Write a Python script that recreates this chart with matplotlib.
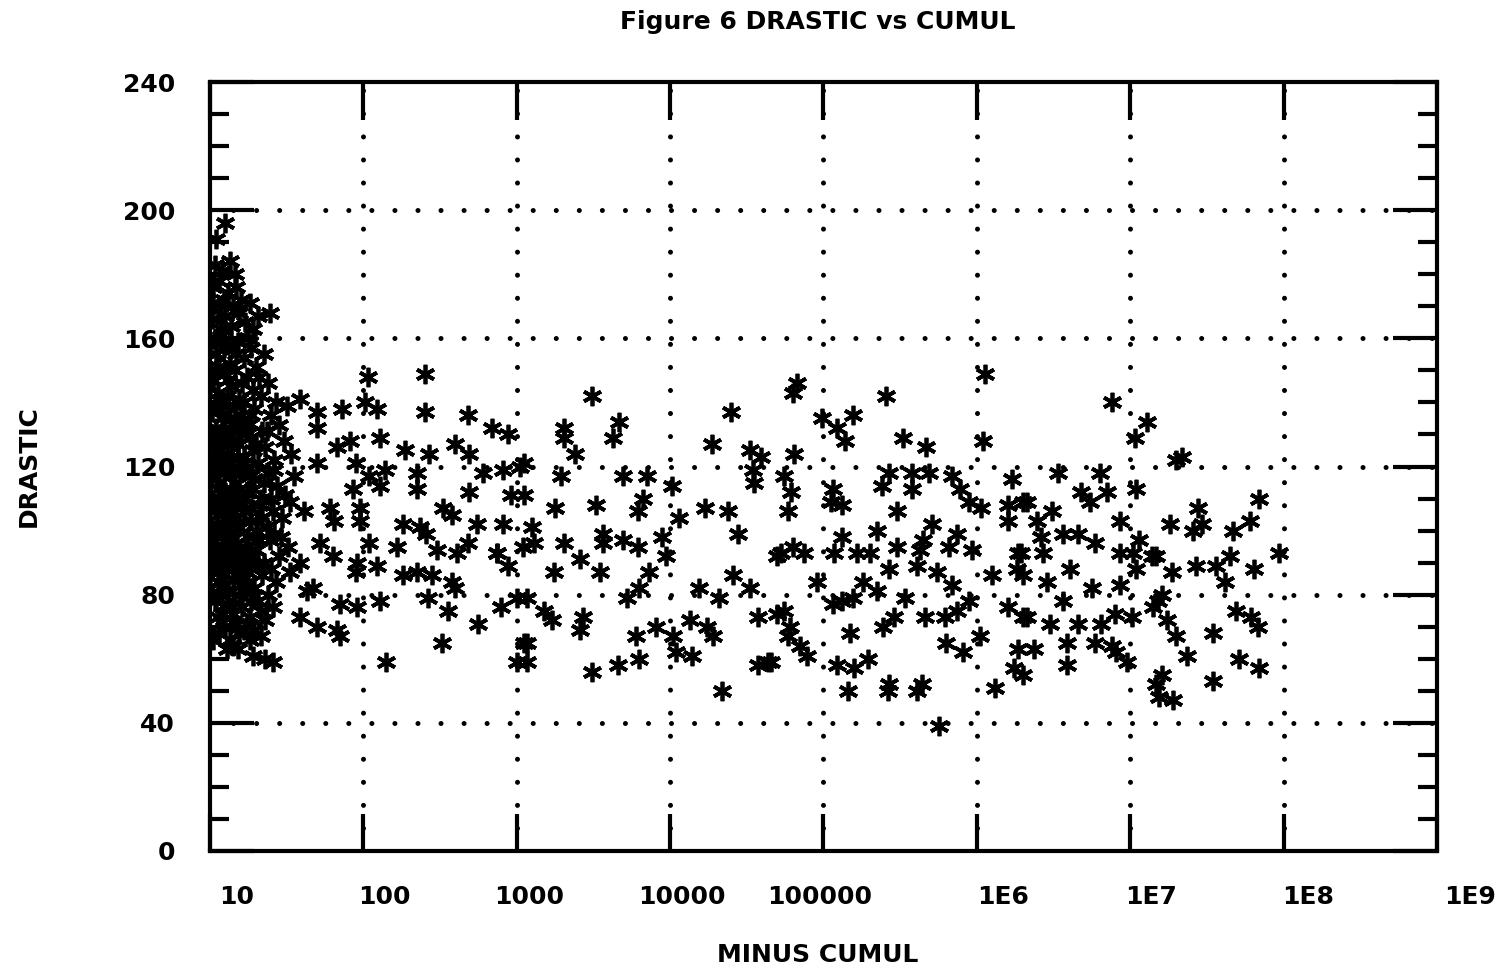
import numpy as np
import matplotlib
matplotlib.use("Agg")
import matplotlib.pyplot as plt

# log10 of MINUS CUMUL, with DRASTIC values
log_cumul = [
    # dense group near 10
    1.10, 1.04, 1.03, 1.13, 1.08, 1.16, 1.02, 1.06, 1.12, 1.20, 1.26, 1.09, 1.17,
    1.01, 1.05, 1.10, 1.14, 1.19, 1.23, 1.28, 1.39, 1.08, 1.31,
    1.00, 1.04, 1.09, 1.13, 1.18, 1.22, 1.27, 1.30, 1.35, 1.06, 1.16,
    1.02, 1.05, 1.10, 1.14, 1.19, 1.24, 1.28, 1.33, 1.38, 1.43, 1.08, 1.21,
    1.01, 1.04, 1.08, 1.12, 1.15, 1.20, 1.25, 1.29, 1.34, 1.40, 1.45, 1.50, 1.07, 1.17,
    1.00, 1.03, 1.07, 1.11, 1.14, 1.18, 1.22, 1.26, 1.31, 1.36, 1.42, 1.48, 1.53, 1.09, 1.20, 1.28,
    1.01, 1.05, 1.09, 1.13, 1.16, 1.21, 1.24, 1.29, 1.33, 1.38, 1.44, 1.49, 1.55, 1.07, 1.19, 1.26,
    1.00, 1.04, 1.08, 1.11, 1.15, 1.19, 1.23, 1.27, 1.32, 1.37, 1.41, 1.47, 1.52, 1.06, 1.13, 1.30,
    1.02, 1.06, 1.10, 1.14, 1.17, 1.21, 1.25, 1.30, 1.35, 1.39, 1.45, 1.51, 1.09, 1.28,
    1.01, 1.05, 1.09, 1.12, 1.16, 1.20, 1.24, 1.29, 1.34, 1.38, 1.43, 1.07,
    1.03, 1.08, 1.12, 1.17, 1.21, 1.26, 1.31, 1.36, 1.41, 1.10,
    1.06, 1.13, 1.18, 1.22, 1.28, 1.33, 1.36, 1.15,
    1.02, 1.07, 1.11, 1.15, 1.03, 1.12, 1.17, 1.25,
    1.00, 1.06, 1.11, 1.16, 1.22, 1.27, 1.32,
    1.01, 1.05, 1.10, 1.14, 1.18, 1.23, 1.30, 1.37,
    1.02, 1.06, 1.10, 1.15, 1.19, 1.24, 1.28, 1.35, 1.42,
    1.01, 1.05, 1.09, 1.13, 1.17, 1.22, 1.26, 1.34, 1.40,
    1.00, 1.04, 1.08, 1.12, 1.18, 1.23, 1.27, 1.32, 1.42,
    1.02, 1.06, 1.11, 1.15, 1.19, 1.25, 1.31, 1.40,
    1.00, 1.04, 1.10, 1.14, 1.19, 1.23, 1.27, 1.33,
    1.05, 1.09, 1.15, 1.19, 1.24, 1.29, 1.02, 1.11, 1.26,
    1.04, 1.13, 1.20, 1.08, 1.16, 1.21, 1.07, 1.14,
    # 30 .. 1000
    2.03, 2.40, 2.40, 2.68, 1.59, 1.70, 1.86, 2.01, 2.09, 1.70, 1.91, 2.11, 1.83,
    2.27, 2.43, 2.60, 2.69, 2.84, 2.94, 1.70, 1.95, 2.14, 2.35, 2.04, 2.11, 1.93,
    2.35, 2.78, 2.91, 3.02, 2.69, 2.96, 2.52, 2.58, 1.61, 1.78, 1.98, 1.81, 1.98,
    2.26, 2.37, 2.41, 2.74, 2.91, 3.04, 1.46, 1.72, 2.04, 2.22, 2.48, 2.61, 2.68,
    2.87, 1.80, 1.59, 1.96, 2.09, 2.26, 2.35, 2.45, 2.58, 2.94, 2.87, 1.95, 1.52,
    1.63, 1.67, 1.85, 1.96, 2.11, 2.42, 2.55, 2.60, 2.90, 2.75, 1.59, 1.70, 1.83,
    1.85, 2.51, 2.15, 1.41, 3.00, 3.05, 3.00,
    # 1000 .. 1e5
    3.49, 3.67, 3.63, 3.31, 3.31, 3.38, 4.40, 4.27, 4.52, 4.59, 4.54, 4.55, 3.05,
    3.29, 3.69, 3.85, 4.01, 3.05, 3.25, 3.52, 3.82, 3.79, 4.06, 4.23, 4.38, 4.44,
    3.10, 3.11, 3.31, 3.56, 3.56, 3.79, 3.69, 3.95, 3.97, 3.41, 3.54, 3.24, 3.86,
    3.07, 3.72, 3.80, 4.19, 4.32, 4.41, 4.52, 4.70, 3.18, 3.23, 3.43, 3.41, 3.07,
    3.07, 3.78, 3.91, 4.02, 4.13, 4.24, 4.28, 4.04, 4.14, 3.80, 3.66, 3.49, 4.57,
    4.64, 4.34, 4.57, 4.70,
    # 1e5 .. 1e6
    4.83, 4.80, 5.41, 6.05, 4.99, 5.09, 5.19, 5.14, 5.52, 5.67, 6.04, 4.81, 4.74,
    4.79, 4.77, 5.06, 5.12, 5.05, 5.43, 5.58, 5.69, 5.38, 5.58, 5.84, 5.89, 5.95,
    6.03, 6.23, 6.20, 6.20, 6.30, 5.48, 5.35, 5.71, 5.12, 5.87, 4.72, 4.80, 4.87,
    5.07, 5.22, 5.30, 5.48, 5.63, 5.65, 5.82, 5.97, 5.43, 5.61, 5.74, 6.27, 6.26,
    6.10, 4.96, 5.26, 5.12, 5.19, 5.35, 5.06, 5.53, 5.84, 5.95, 5.87, 6.20, 6.30,
    4.74, 4.78, 4.77, 4.85, 4.89, 4.66, 5.17, 5.39, 5.46, 5.66, 5.79, 5.80, 5.91,
    6.02, 5.09, 5.20, 5.29, 5.16, 5.43, 5.42, 5.64, 5.61, 6.12, 6.27, 6.24, 5.75,
    # 1e6 .. 1e8
    6.88, 7.11, 7.03, 7.30, 7.34, 6.53, 6.80, 6.68, 6.74, 6.85, 7.04, 6.33, 6.49,
    6.39, 6.93, 6.42, 6.56, 6.66, 6.77, 7.26, 7.41, 7.47, 7.44, 7.67, 7.78, 7.84,
    7.97, 6.29, 6.43, 6.93, 7.02, 7.14, 7.17, 7.04, 6.61, 6.30, 6.46, 7.27, 7.43,
    7.56, 7.65, 7.81, 7.62, 6.75, 6.93, 7.21, 7.18, 7.15, 6.56, 7.24, 7.69, 7.83,
    6.33, 6.48, 6.66, 6.81, 6.90, 7.01, 6.59, 6.77, 6.88, 7.30, 7.54, 6.91, 6.98,
    7.37, 6.59, 6.30, 6.37, 7.71, 7.84, 7.54, 7.21, 7.17, 7.19, 7.28, 7.06, 7.79,
]

drastic = [
    196, 191, 183, 184, 181, 180, 176, 178, 174, 172, 171, 172, 176,
    166, 169, 167, 164, 168, 165, 163, 168, 161, 167,
    158, 155, 157, 152, 159, 154, 157, 151, 155, 151, 150,
    147, 143, 149, 145, 141, 148, 144, 142, 146, 140, 140, 146,
    137, 132, 135, 139, 131, 136, 133, 138, 131, 136, 133, 139, 130, 134,
    126, 122, 128, 124, 121, 127, 123, 129, 121, 126, 122, 128, 124, 120, 130, 125,
    117, 113, 118, 111, 115, 119, 112, 116, 110, 118, 114, 111, 117, 110, 113, 117,
    106, 102, 108, 104, 109, 101, 106, 103, 108, 101, 106, 104, 109, 100, 106, 100,
    97, 93, 99, 92, 96, 91, 98, 94, 90, 97, 92, 95, 90, 92,
    88, 84, 86, 81, 89, 83, 87, 82, 86, 80, 84, 80,
    78, 74, 77, 71, 76, 73, 78, 72, 76, 70,
    68, 66, 63, 69, 61, 67, 60, 64,
    171, 163, 158, 170, 160, 147, 155, 160,
    145, 138, 142, 139, 140, 136, 148,
    128, 125, 131, 127, 123, 132, 127, 131,
    119, 115, 112, 118, 109, 120, 113, 115, 119,
    110, 105, 101, 99, 104, 110, 107, 104, 110,
    95, 99, 94, 96, 93, 95, 89, 97, 99,
    91, 87, 89, 85, 88, 84, 90, 88,
    82, 79, 83, 76, 80, 81, 78, 75,
    73, 70, 74, 68, 71, 69, 66, 63, 66,
    150, 135, 118, 122, 102, 85, 107, 113,
    # 30 .. 1000
    148, 149, 137, 136, 141, 137, 138, 140, 138, 132, 128, 129, 126,
    125, 124, 127, 124, 132, 130, 121, 121, 119, 118, 117, 114, 113,
    113, 118, 119, 120, 112, 111, 107, 105, 106, 107, 107, 103, 103,
    102, 101, 99, 102, 102, 95, 98, 96, 96, 95, 94, 93, 96,
    93, 92, 90, 90, 89, 86, 87, 86, 84, 89, 93, 87, 87,
    81, 82, 77, 76, 78, 79, 75, 82, 76, 71, 73, 70, 69,
    67, 65, 59, 59, 59, 65, 79,
    # 1000 .. 1e5
    142, 134, 129, 132, 129, 124, 137, 127, 125, 123, 119, 115, 121,
    117, 117, 117, 114, 111, 107, 108, 110, 106, 104, 107, 106, 99,
    101, 96, 96, 99, 96, 95, 97, 98, 92, 91, 87, 87, 87,
    79, 79, 82, 82, 79, 86, 82, 92, 75, 72, 73, 69, 65,
    59, 67, 70, 67, 72, 70, 67, 62, 61, 60, 58, 56, 58,
    59, 50, 73, 74,
    # 1e5 .. 1e6
    146, 143, 142, 149, 135, 132, 136, 128, 129, 126, 128, 124, 117,
    112, 106, 113, 108, 109, 118, 118, 118, 114, 113, 117, 113, 109,
    107, 116, 108, 103, 109, 106, 100, 102, 98, 99, 93, 95, 93,
    93, 93, 93, 95, 94, 97, 95, 94, 88, 89, 87, 93, 88,
    86, 84, 84, 78, 79, 81, 77, 79, 83, 78, 75, 76, 73,
    75, 70, 67, 64, 61, 59, 68, 70, 73, 73, 73, 65, 62,
    67, 58, 57, 60, 50, 52, 50, 52, 50, 51, 63, 57, 39,
    # 1e6 .. 1e8
    140, 134, 129, 122, 123, 118, 118, 112, 109, 112, 113, 109, 106,
    103, 103, 98, 99, 99, 96, 102, 100, 102, 107, 100, 103, 110,
    93, 93, 93, 93, 93, 92, 92, 88, 88, 86, 84, 87, 89,
    89, 92, 88, 84, 82, 83, 80, 78, 76, 78, 72, 75, 70,
    73, 71, 71, 71, 74, 73, 65, 65, 64, 67, 68, 62, 59,
    61, 58, 55, 63, 60, 57, 53, 55, 52, 48, 47, 97, 73,
]

x_ticks = [1e1, 1e2, 1e3, 1e4, 1e5, 1e6, 1e7, 1e8, 1e9]
x_tick_labels = ["10", "100", "1000", "10000", "100000", "1E6", "1E7", "1E8", "1E9"]
x_label_shift = [27, 21, 12, 12, -4, 26, 21, 24, 33]  # pixels, as printed
y_ticks = [0, 40, 80, 120, 160, 200, 240]

cumul = 10 ** np.array(log_cumul)

fig = plt.figure(figsize=(15.03, 9.72), dpi=100)
ax = fig.add_axes([0.1397, 0.1245, 0.8164, 0.7911])

ax.plot(cumul, drastic, linestyle="none", marker=(6, 2, 0), markersize=14,
        markeredgewidth=2.7, color="black")

ax.set_xscale("log")
ax.set_xlim(1e1, 1e9)
ax.set_ylim(0, 240)

# dotted grid made of round dots
for v in x_ticks[1:-1]:
    ax.axvline(v, color="black", linewidth=3.6, linestyle=(0, (0.01, 4.6)),
               dash_capstyle="round", zorder=0)
for v in y_ticks[1:-1]:
    ax.axhline(v, color="black", linewidth=3.6, linestyle=(0, (0.01, 4.6)),
               dash_capstyle="round", zorder=0)

for s in ax.spines.values():
    s.set_linewidth(3)

ax.set_xticks(x_ticks)
ax.set_xticklabels([])
ax.xaxis.set_minor_locator(matplotlib.ticker.NullLocator())
ax.tick_params(axis="x", which="major", direction="in", length=27, width=3,
               top=True, bottom=True)
ax.set_yticks(y_ticks)
ax.set_yticks(np.arange(0, 241, 10), minor=True)
ax.tick_params(axis="y", which="major", direction="in", length=32, width=3,
               left=True, right=True, labelsize=18, pad=25)
ax.tick_params(axis="y", which="minor", direction="in", length=14, width=3,
               left=True, right=True)
for lab in ax.get_yticklabels():
    lab.set_fontweight("bold")

for v, t, dx in zip(x_ticks, x_tick_labels, x_label_shift):
    ax.annotate(t, xy=(v, 0), xycoords=("data", "axes fraction"),
                xytext=(dx, -46), textcoords="offset pixels",
                ha="center", va="center", fontsize=18, fontweight="bold")

fig.text(0.544, 0.977, "Figure 6 DRASTIC vs CUMUL", ha="center", va="center",
         fontsize=18, fontweight="bold")
fig.text(0.544, 0.017, "MINUS CUMUL", ha="center", va="center",
         fontsize=18, fontweight="bold")
fig.text(0.019, 0.52, "DRASTIC", ha="center", va="center", rotation=90,
         fontsize=18, fontweight="bold")

fig.savefig("out.png", dpi=100)
